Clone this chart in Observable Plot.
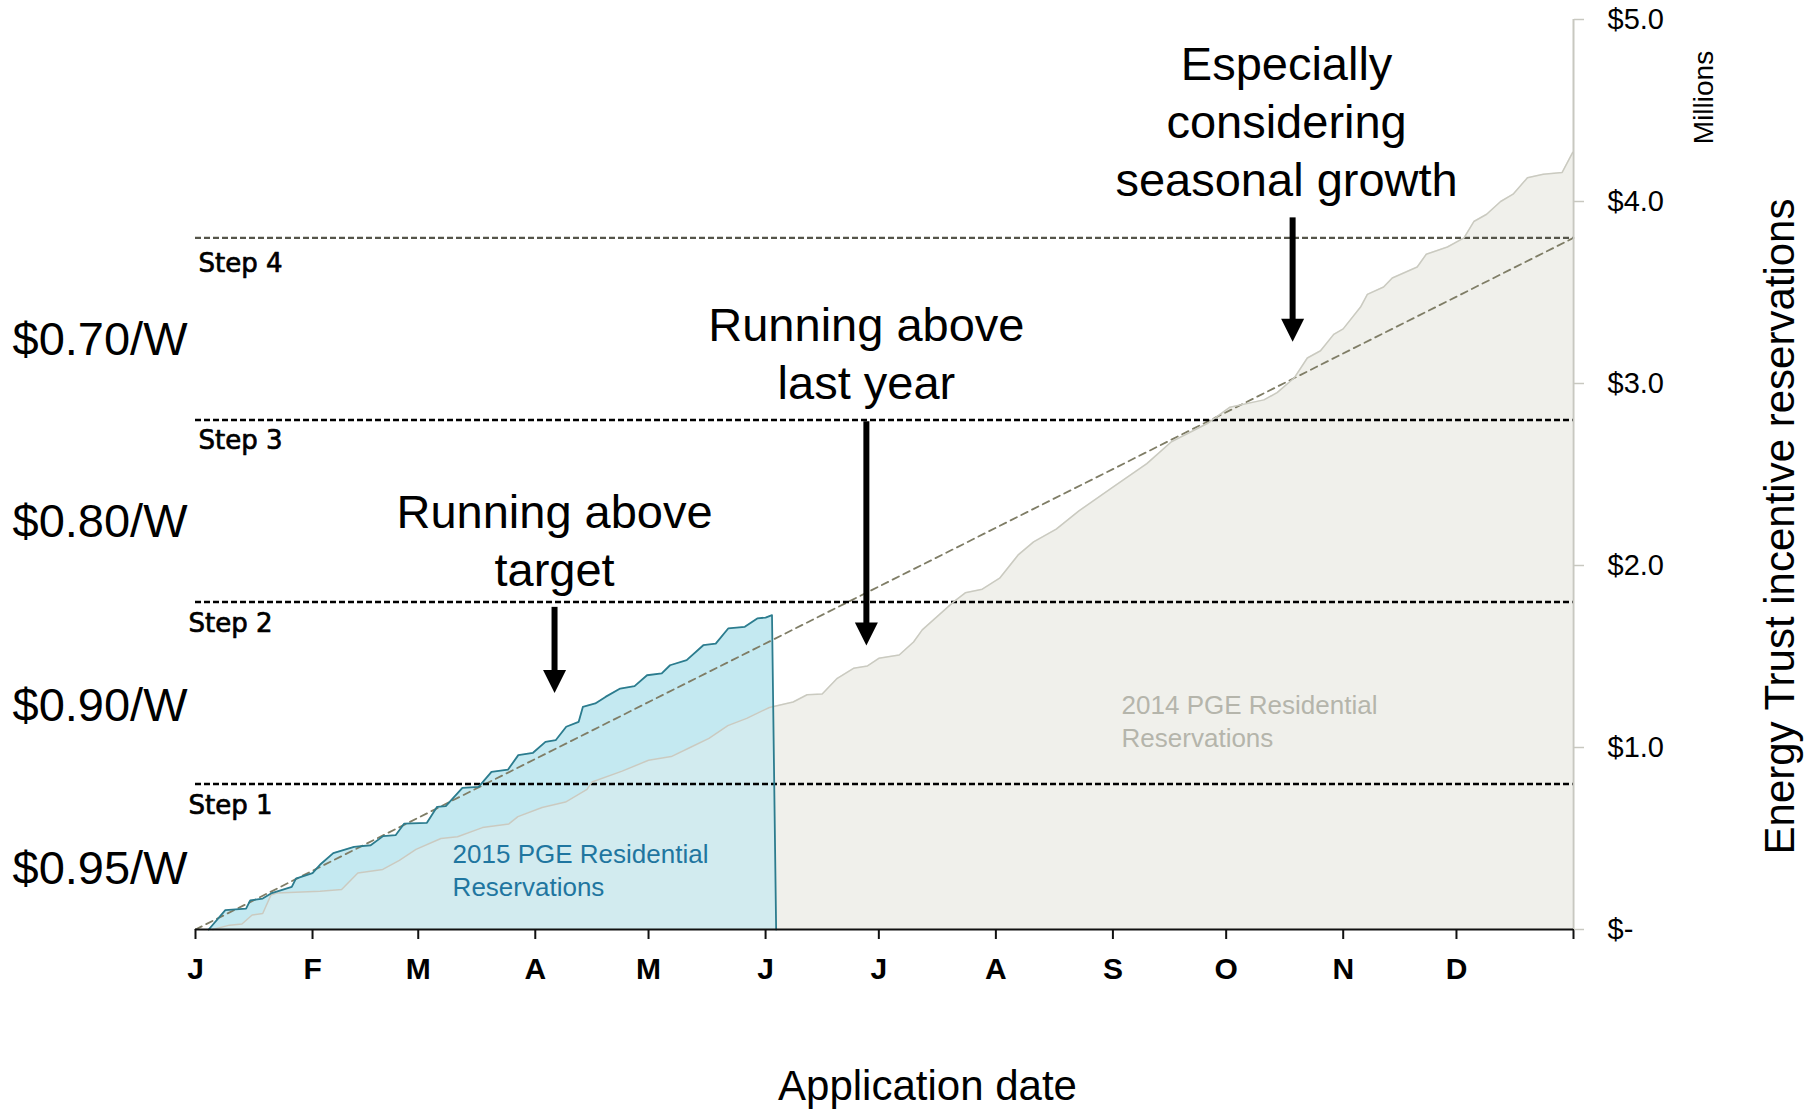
<!DOCTYPE html>
<html>
<head>
<meta charset="utf-8">
<script src="https://cdn.jsdelivr.net/npm/d3@7"></script>
<script src="https://cdn.jsdelivr.net/npm/@observablehq/plot@0.6"></script>
<style>
  html, body { margin: 0; padding: 0; background: #fff; }
</style>
</head>
<body>
<div id="chart"></div>
<script>
// ---- data (day of year, reservations in $ millions) ----
const days2015 = [3.5, 7.9, 13.4, 14.5, 17.8, 20, 25.5, 26.6, 31, 33.2, 36.5, 42, 46.4, 49.7, 53, 55.3, 61.3, 64, 66.3, 70.7, 75, 78.4, 82.8, 85.5, 89.4, 92.7, 95.4, 98.2, 101.5, 102.6, 105.9, 108.6, 112.5, 116.3, 119.6, 123.5, 125.7, 130.1, 134.5, 137.8, 141.1, 145.5, 148.8, 151, 152.7, 153.8];
const res2015  = [0, 0.106, 0.115, 0.16, 0.17, 0.198, 0.234, 0.28, 0.31, 0.36, 0.42, 0.454, 0.463, 0.513, 0.518, 0.582, 0.586, 0.674, 0.678, 0.778, 0.784, 0.866, 0.879, 0.958, 0.971, 1.031, 1.04, 1.114, 1.141, 1.223, 1.242, 1.278, 1.324, 1.337, 1.397, 1.407, 1.452, 1.48, 1.562, 1.571, 1.654, 1.663, 1.709, 1.714, 1.727, 0];

const days2014 = [4.6, 9, 12.3, 15, 17.8, 20, 21.5, 33, 38.7, 43, 49.6, 54, 58.4, 65, 69.4, 76, 83, 85.4, 91.8, 98, 103.7, 105, 113, 120, 126, 131, 136, 141, 146, 152, 158.3, 162, 166, 170, 174.3, 178, 181, 186.4, 190.2, 192.5, 200.8, 203.9, 208.4, 213, 218, 222, 228, 234, 243, 252, 258.5, 268, 274, 283, 286.5, 291, 294.5, 298, 301.5, 304, 308.6, 310.4, 314.7, 317, 323.6, 326, 331.6, 336, 338.6, 342, 345.7, 349, 352.8, 357, 362, 364.8];
const res2014  = [0, 0.024, 0.03, 0.08, 0.088, 0.19, 0.2, 0.21, 0.22, 0.31, 0.33, 0.38, 0.44, 0.5, 0.51, 0.56, 0.58, 0.62, 0.67, 0.70, 0.77, 0.81, 0.87, 0.93, 0.95, 1.0, 1.05, 1.12, 1.16, 1.22, 1.25, 1.29, 1.294, 1.38, 1.435, 1.448, 1.49, 1.508, 1.58, 1.646, 1.80, 1.85, 1.87, 1.93, 2.06, 2.13, 2.2, 2.30, 2.43, 2.56, 2.68, 2.78, 2.87, 2.91, 2.95, 3.03, 3.14, 3.18, 3.27, 3.30, 3.42, 3.49, 3.53, 3.58, 3.64, 3.71, 3.75, 3.80, 3.89, 3.93, 4.0, 4.04, 4.13, 4.15, 4.16, 4.27];

const targetDays = [0, 365];
const targetValues = [0, 3.8];

const stepValues = [0.8, 1.8, 2.8, 3.8];
const stepLabels = ["Step 1", "Step 2", "Step 3", "Step 4"];

const priceLabels = ["$0.95/W", "$0.90/W", "$0.80/W", "$0.70/W"];
const priceLevels = [0.33, 1.23, 2.24, 3.24];

const monthLabels = ["J", "F", "M", "A", "M", "J", "J", "A", "S", "O", "N", "D", ""];
const yTicks = [0, 1, 2, 3, 4, 5];
const yTickLabels = ["$-", "$1.0", "$2.0", "$3.0", "$4.0", "$5.0"];

const noteTexts = ["Running above\ntarget", "Running above\nlast year", "Especially\nconsidering\nseasonal growth"];
const noteDays = [95.1, 177.7, 289];
const noteValues = [2.15, 3.174, 4.449];
const arrowTops = [1.77, 2.79, 3.91];
const arrowTips = [1.30, 1.56, 3.23];
const arrowDays = [95.1, 177.7, 290.6];

const seriesNames = ["2015 PGE Residential\nReservations", "2014 PGE Residential\nReservations"];
const seriesNameDays = [68.1, 245.3];
const seriesNameValues = [0.332, 1.154];

// ---- build tables ----
const base = Date.UTC(2015, 0, 1);
const toDate = d => new Date(base + d * 864e5);
const start = new Date(base);
const end = new Date(Date.UTC(2016, 0, 1));

const s2015 = days2015.map((d, i) => ({date: toDate(d), value: res2015[i]}));
const s2014 = days2014.map((d, i) => ({date: toDate(d), value: res2014[i]}));
const target = targetDays.map((d, i) => ({date: toDate(d), value: targetValues[i]}));
const steps = stepValues.map((v, i) => ({value: v, label: stepLabels[i]}));
const prices = priceLabels.map((t, i) => ({label: t, value: priceLevels[i]}));
const notes = noteTexts.map((t, i) => ({text: t, date: toDate(noteDays[i]), value: noteValues[i]}));
const arrows = arrowDays.map((d, i) => ({date: toDate(d), top: arrowTops[i], tip: arrowTips[i], base: arrowTips[i] + 0.1}));
const names = seriesNames.map((t, i) => ({text: t, date: toDate(seriesNameDays[i]), value: seriesNameValues[i]}));
const monthTicks = d3.utcMonth.range(start, d3.utcDay.offset(end, 1));

const headDown = {
  draw(ctx, size) {
    const r = Math.sqrt(size / Math.PI);
    ctx.moveTo(0, 0);
    ctx.lineTo(-r, -2 * r);
    ctx.lineTo(r, -2 * r);
    ctx.closePath();
  }
};

const FONT = "'Liberation Sans', Arial, Helvetica, sans-serif";
const STEPFONT = "'DejaVu Sans', 'Liberation Sans', sans-serif";
const stepStyle = {textAnchor: "start", fontSize: 26, fontFamily: STEPFONT, fill: "#000", stroke: "#000", strokeWidth: 0.7};

const chart = Plot.plot({
  width: 1818,
  height: 1109,
  marginLeft: 195,
  marginRight: 245,
  marginTop: 19,
  marginBottom: 180,
  style: {fontFamily: FONT, background: "white", overflow: "visible"},
  x: {type: "utc", domain: [start, end]},
  y: {domain: [0, 5]},
  marks: [
    // areas
    Plot.areaY(s2014, {x: "date", y: "value", fill: "#f0f0eb"}),
    Plot.areaY(s2015, {x: "date", y: "value", fill: "#c4e9f1"}),
    Plot.areaY(s2014, {x: "date", y: "value", fill: "#f0f0eb", fillOpacity: 0.32}),
    // target
    Plot.line(target, {x: "date", y: "value", stroke: "#7f7d66", strokeWidth: 1.8, strokeDasharray: "7,5"}),
    // step lines
    Plot.ruleY(steps.filter(d => d.value < 3.5), {y: "value", x1: start, x2: end, stroke: "#000", strokeWidth: 2.5, strokeDasharray: "6,3"}),
    Plot.ruleY(steps.filter(d => d.value > 3.5), {y: "value", x1: start, x2: end, stroke: "#55554a", strokeWidth: 2.2, strokeDasharray: "6,3"}),
    // series lines
    Plot.line(s2014, {x: "date", y: "value", stroke: "#cacac0", strokeWidth: 1.5}),
    Plot.line(s2015, {x: "date", y: "value", stroke: "#2c7c8e", strokeWidth: 1.8}),
    // right axis line
    Plot.ruleX([end], {y1: 0, y2: 5, stroke: "#c8c8c0", strokeWidth: 2}),
    // bottom axis line
    Plot.ruleY([0], {x1: start, x2: end, stroke: "#111", strokeWidth: 2}),
    Plot.axisX({ticks: monthTicks, tickFormat: d => monthLabels[d3.utcMonth.count(start, d)], tickSize: 10, tickPadding: 18, stroke: "#111", strokeWidth: 2, fill: "#000", fontSize: 30, fontWeight: "bold", label: null}),
    Plot.axisY({anchor: "right", ticks: yTicks, tickFormat: d => yTickLabels[yTicks.indexOf(d)], tickSize: 10, tickPadding: 24, stroke: "#c8c8c0", strokeWidth: 1.5, fill: "#000", fontSize: 29, label: null}),
    // step labels
    Plot.text(steps.filter(d => d.value > 3.5), {x: start, y: "value", text: "label", dx: 3, dy: 26, ...stepStyle}),
    Plot.text(steps.filter(d => d.value > 2.5 && d.value < 3.5), {x: start, y: "value", text: "label", dx: 3, dy: 21, ...stepStyle}),
    Plot.text(steps.filter(d => d.value < 2.5), {x: start, y: "value", text: "label", dx: -7, dy: 22, ...stepStyle}),
    // price labels
    Plot.text(prices, {x: start, y: "value", text: "label", textAnchor: "start", dx: -183, fontSize: 47, fill: "#000"}),
    // series names
    Plot.text(names.slice(0, 1), {x: "date", y: "value", text: "text", textAnchor: "start", fontSize: 26, lineHeight: 1.27, fill: "#1f76a0"}),
    Plot.text(names.slice(1), {x: "date", y: "value", text: "text", textAnchor: "start", fontSize: 26, lineHeight: 1.27, fill: "#b5b5ab"}),
    // annotations
    Plot.text(notes, {x: "date", y: "value", text: "text", fontSize: 47, lineHeight: 1.234, fill: "#000"}),
    Plot.ruleX(arrows, {x: "date", y1: "top", y2: "base", stroke: "#000", strokeWidth: 6}),
    Plot.dot(arrows, {x: "date", y: "tip", symbol: headDown, r: 11.5, fill: "#000", stroke: "none"}),
    // axis titles
    Plot.text(["Application date"], {frameAnchor: "bottom", textAnchor: "middle", lineAnchor: "middle", dx: 43, dy: 157, fontSize: 42, fill: "#000"}),
    Plot.text(["Energy Trust incentive reservations"], {frameAnchor: "right", textAnchor: "middle", lineAnchor: "middle", dx: 207, dy: 52, rotate: -90, fontSize: 42, fill: "#000"}),
    Plot.text(["Millions"], {frameAnchor: "top-right", textAnchor: "middle", lineAnchor: "middle", dx: 131, dy: 78, rotate: -90, fontSize: 28, fill: "#000"})
  ]
});

document.getElementById("chart").appendChild(chart);
</script>
</body>
</html>
